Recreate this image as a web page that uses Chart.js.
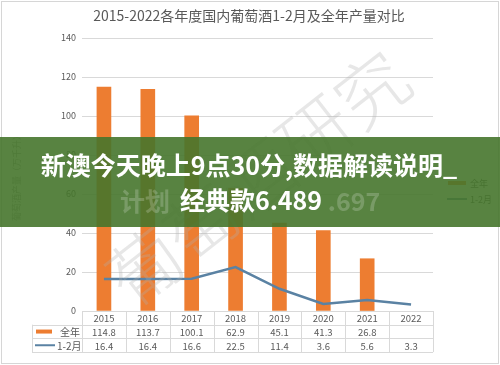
<!DOCTYPE html>
<html>
<head>
<meta charset="utf-8">
<script src="https://cdn.jsdelivr.net/npm/chart.js@4.4.1/dist/chart.umd.min.js"></script>
<style>
  html, body { margin: 0; padding: 0; background: #fff; }
  #wrap { width: 500px; height: 365px; }
</style>
</head>
<body>
<div id="wrap"><canvas id="chart" width="500" height="365"></canvas></div>
<script>
const years = ["2015", "2016", "2017", "2018", "2019", "2020", "2021", "2022"];
const fullYear = [114.8, 113.7, 100.1, 62.9, 45.1, 41.3, 26.8, null];
const janFeb = [16.4, 16.4, 16.6, 22.5, 11.4, 3.6, 5.6, 3.3];
const seriesNames = ["全年", "1-2月"];
const chartTitle = "2015-2022各年度国内葡萄酒1-2月及全年产量对比";
const axisTitle = "葡萄酒产量（万千升）";
const bannerLines = ["新澳今天晚上9点30分,数据解读说明_", "经典款6.489"];

const FONT = '"Noto Sans CJK SC", "Noto Sans", sans-serif';
const ORANGE = "#ED7D31";
const BLUE = "#5A82A3";
const TEXT = "#595959";
const GRID = "#D9D9D9";

const extras = {
  id: "extras",
  afterDatasetsDraw(chart) {
    const ctx = chart.ctx;
    // faint watermark
    ctx.save();
    ctx.translate(258, 178);
    ctx.rotate(-38 * Math.PI / 180);
    ctx.font = "300 72px " + FONT;
    ctx.fillStyle = "rgba(175,175,175,0.3)";
    ctx.textAlign = "center";
    ctx.textBaseline = "middle";
    ctx.fillText("葡萄酒研究", 0, 0);
    ctx.restore();
  },
  afterDraw(chart) {
    const ctx = chart.ctx;
    const area = chart.chartArea;
    const x = chart.scales.x;
    ctx.save();

    // outer frame
    ctx.strokeStyle = "#D6D6D6";
    ctx.lineWidth = 1;
    ctx.strokeRect(1.5, 1.5, 497, 362);

    // title
    ctx.fillStyle = TEXT;
    ctx.font = "14px " + FONT;
    ctx.textAlign = "center";
    ctx.textBaseline = "middle";
    ctx.fillText(chartTitle, 249, 16);

    // y axis title
    ctx.save();
    ctx.translate(17, 176);
    ctx.rotate(-Math.PI / 2);
    ctx.font = "9px " + FONT;
    ctx.fillStyle = "#A6A6A6";
    ctx.fillText(axisTitle, 0, 0);
    ctx.restore();

    // data table
    const half = (x.getPixelForValue(1) - x.getPixelForValue(0)) / 2;
    const top = area.bottom;
    const rowH = 13.7;
    const tableLeft = 32;
    ctx.strokeStyle = GRID;
    ctx.lineWidth = 1;
    ctx.beginPath();
    for (let r = 1; r <= 3; r++) {
      const y = Math.round(top + r * rowH) + 0.5;
      ctx.moveTo(tableLeft, y);
      ctx.lineTo(area.right, y);
    }
    for (let i = 0; i <= years.length; i++) {
      const px = Math.round(x.getPixelForValue(i) - half) + 0.5;
      ctx.moveTo(px, top);
      ctx.lineTo(px, top + 3 * rowH);
    }
    ctx.moveTo(tableLeft + 0.5, top + rowH);
    ctx.lineTo(tableLeft + 0.5, top + 3 * rowH);
    ctx.stroke();

    ctx.fillStyle = TEXT;
    ctx.font = "9.5px " + FONT;
    ctx.textAlign = "center";
    years.forEach((yr, i) => {
      const cx = x.getPixelForValue(i);
      ctx.fillText(yr, cx, top + rowH * 0.55);
      if (fullYear[i] != null) ctx.fillText(fullYear[i].toFixed(1), cx, top + rowH * 1.55);
      if (janFeb[i] != null) ctx.fillText(janFeb[i].toFixed(1), cx, top + rowH * 2.55);
    });

    // table legend keys
    ctx.fillStyle = ORANGE;
    ctx.fillRect(36, top + rowH * 1.5 - 2, 16, 4);
    ctx.strokeStyle = BLUE;
    ctx.lineWidth = 2;
    ctx.beginPath();
    ctx.moveTo(35, top + rowH * 2.5);
    ctx.lineTo(55, top + rowH * 2.5);
    ctx.stroke();
    ctx.fillStyle = TEXT;
    ctx.font = "10px " + FONT;
    ctx.textAlign = "left";
    ctx.fillText(seriesNames[0], 60, top + rowH * 1.55);
    ctx.fillText(seriesNames[1], 57, top + rowH * 2.55);

    // right legend
    ctx.fillStyle = ORANGE;
    ctx.fillRect(448, 181, 18, 4);
    ctx.strokeStyle = BLUE;
    ctx.beginPath();
    ctx.moveTo(447, 199);
    ctx.lineTo(467, 199);
    ctx.stroke();
    ctx.fillStyle = TEXT;
    ctx.font = "9px " + FONT;
    ctx.fillText(seriesNames[0], 470, 184);
    ctx.fillText(seriesNames[1], 470, 200);

    // green overlay banner
    ctx.fillStyle = "rgba(70,117,44,0.9)";
    ctx.fillRect(0, 137, 500, 90);

    ctx.textAlign = "center";
    ctx.font = "bold 25px " + FONT;
    ctx.fillStyle = "rgba(255,255,255,0.2)";
    ctx.fillText("计划", 145, 201);
    ctx.fillText(".697", 354, 201);
    ctx.fillStyle = "#FFFFFF";
    ctx.fillText(bannerLines[0], 249, 165);
    ctx.fillText(bannerLines[1], 251, 200);

    ctx.restore();
  }
};

new Chart(document.getElementById("chart"), {
  data: {
    labels: years,
    datasets: [
      {
        type: "line",
        label: seriesNames[1],
        data: janFeb,
        borderColor: BLUE,
        borderWidth: 2.5,
        pointRadius: 0,
        tension: 0,
        order: 0
      },
      {
        type: "bar",
        label: seriesNames[0],
        data: fullYear,
        backgroundColor: ORANGE,
        barThickness: 14,
        order: 1
      }
    ]
  },
  options: {
    responsive: false,
    animation: false,
    layout: { padding: { top: 38, left: 0, right: 67, bottom: 54 } },
    plugins: {
      legend: { display: false },
      title: { display: false },
      tooltip: { enabled: false }
    },
    scales: {
      x: { display: false },
      y: {
        min: 0,
        max: 140,
        afterFit(scale) { scale.width = 82; },
        ticks: {
          stepSize: 20,
          padding: 6,
          color: TEXT,
          font: { family: FONT, size: 9 }
        },
        grid: { color: GRID, drawTicks: false },
        border: { display: false }
      }
    }
  },
  plugins: [extras]
});
</script>
</body>
</html>
